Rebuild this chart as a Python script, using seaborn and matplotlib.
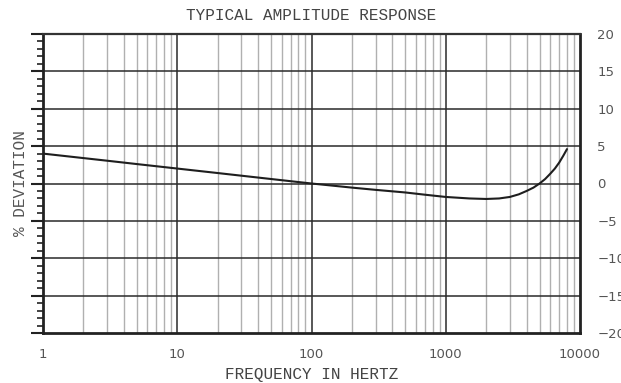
import numpy as np
import pandas as pd
import matplotlib
matplotlib.use("Agg")
import matplotlib.pyplot as plt
import seaborn as sns
from matplotlib.ticker import FixedLocator, NullFormatter

# data
freq_hz = [1, 2, 3, 5, 10, 20, 50, 100, 200, 300, 500, 700, 1000, 1500, 2000, 2500,
           3000, 3500, 4000, 4500, 5000, 5500, 6000, 6500, 7000, 7500, 8000]
deviation_pct = [4.0, 3.4, 3.05, 2.6, 2.0, 1.4, 0.6, 0.0, -0.55, -0.85, -1.2, -1.5, -1.8,
                 -2.0, -2.07, -2.0, -1.8, -1.45, -1.0, -0.55, 0.0, 0.6, 1.3, 2.0, 2.8,
                 3.7, 4.6]
x_ticks = [1, 10, 100, 1000, 10000]
x_tick_labels = ["1", "10", "100", "1000", "10000"]
y_ticks = [-20, -15, -10, -5, 0, 5, 10, 15, 20]
title = "TYPICAL AMPLITUDE RESPONSE"
x_label = "FREQUENCY IN HERTZ"
y_label = "% DEVIATION"

df = pd.DataFrame({"freq": freq_hz, "dev": deviation_pct})

sns.set_style("white")
plt.rcParams["font.family"] = ["DejaVu Sans"]

fig = plt.figure(figsize=(6.21, 3.83), dpi=100)
ax = fig.add_axes([43/621, 1-333/383, (580-43)/621, (333-34)/383])
ax.set_xscale("log")
ax.set_xlim(1, 10000)
ax.set_ylim(-20, 20)

# gridlines
minor_x = [m * 10**d for d in range(0, 4) for m in range(2, 10)]
for xv in minor_x:
    ax.axvline(xv, color="#b0b0b0", lw=1.0, zorder=1)
for xv in [10, 100, 1000]:
    ax.axvline(xv, color="#2a2a2a", lw=1.1, zorder=1.5)
for yv in [-15, -10, -5, 0, 5, 10, 15]:
    ax.axhline(yv, color="#2a2a2a", lw=1.1, zorder=1.5)

sns.lineplot(data=df, x="freq", y="dev", ax=ax, color="#1e1e1e", lw=1.5, zorder=3)

for side in ["left", "bottom", "right"]:
    ax.spines[side].set_linewidth(2.0)
    ax.spines[side].set_color("#222222")
ax.spines["top"].set_linewidth(1.6)
ax.spines["top"].set_color("#333333")

# x ticks
ax.xaxis.set_major_locator(FixedLocator(x_ticks))
ax.set_xticklabels(x_tick_labels)
ax.xaxis.set_minor_locator(FixedLocator(minor_x))
ax.xaxis.set_minor_formatter(NullFormatter())
ax.tick_params(axis="x", which="major", direction="out", length=5, width=1.5,
               color="#222222", pad=6, labelsize=9.5, labelcolor="#555555", top=False)
ax.tick_params(axis="x", which="minor", direction="out", length=3, width=1.0,
               color="#333333", top=False)

# y ticks: marks on left, labels on right
ax.yaxis.set_major_locator(FixedLocator(y_ticks))
ax.set_yticklabels([str(v).replace("-", "\u2212") for v in y_ticks])
ax.yaxis.set_minor_locator(FixedLocator([v for v in range(-20, 21) if v % 5 != 0]))
ax.yaxis.set_minor_formatter(NullFormatter())
ax.tick_params(axis="y", which="major", left=True, right=False, labelleft=False,
               labelright=True, direction="out", length=9, width=1.5, color="#222222",
               pad=3.5, labelsize=9.5, labelcolor="#555555")
ax.tick_params(axis="y", which="minor", left=True, right=False, direction="out",
               length=4.5, width=1.2, color="#222222")

mono = "Liberation Mono"
ax.set_xlabel(x_label, family=mono, fontsize=11.5, color="#444444", labelpad=4)
ax.set_ylabel("")
fig.text(21/621, 1-183/383, y_label, family=mono, fontsize=11.5, color="#555555",
         rotation=90, ha="center", va="center")
ax.set_title(title, family=mono, fontsize=11.5, color="#444444", pad=10)

fig.savefig("out.png", dpi=100)
